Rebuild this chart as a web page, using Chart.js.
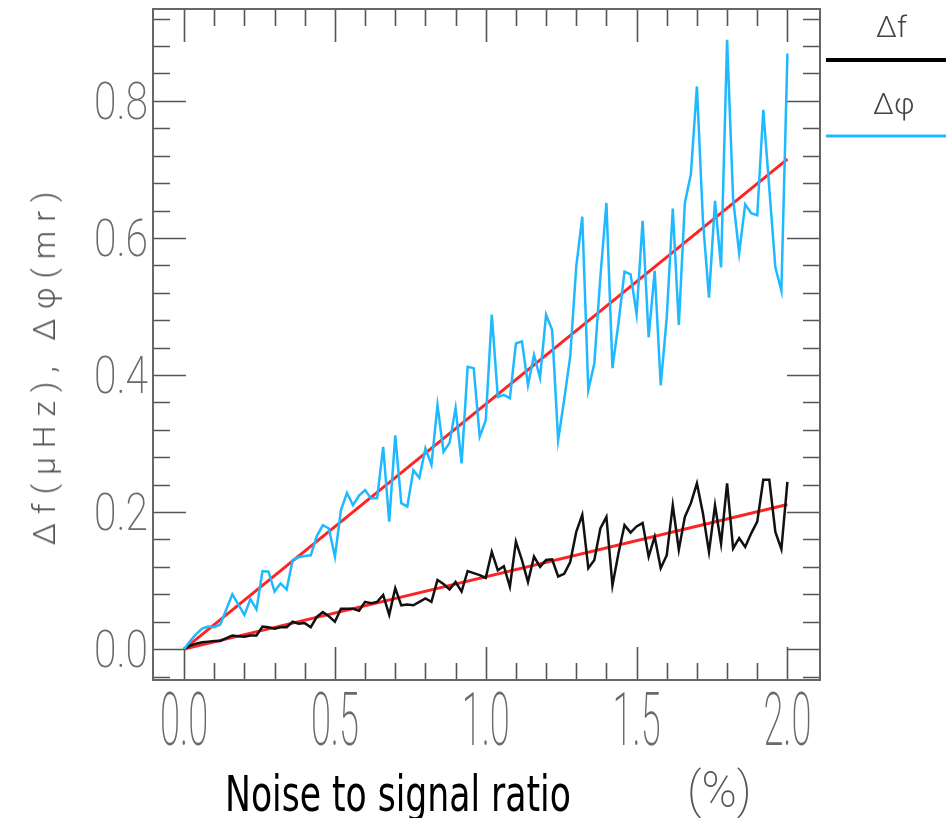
<!DOCTYPE html>
<html>
<head>
<meta charset="utf-8">
<script src="https://cdn.jsdelivr.net/npm/chart.js@4.4.1/dist/chart.umd.min.js"></script>
<style>
  html, body { margin: 0; padding: 0; background: #fff; }
  #wrap { position: relative; width: 946px; height: 818px; overflow: hidden; }
  #noiseChart { position: absolute; left: 0; top: 0; }
  .lbl { position: absolute; white-space: nowrap; line-height: 1; }
  #yTitle { left: 44px; top: 364px; transform: translate(-50%, -50%) rotate(-90deg);
            font: 300 32px Roboto, sans-serif; letter-spacing: 9px; color: #555; }
  #xTitle { left: 225px; top: 766px; font: 49px "Liberation Sans Narrow", "DejaVu Sans Condensed", sans-serif;
            color: #000; transform: scaleX(0.785); transform-origin: 0 0; }
  #xUnit { left: 687px; top: 761px; font: 200 50px Roboto, sans-serif; color: #555;
           transform: scaleX(0.95); transform-origin: 0 0; }
  .legTxt { font: 300 30px Roboto, sans-serif; color: #444; }
</style>
</head>
<body>
<div id="wrap">
  <canvas id="noiseChart" width="946" height="818"></canvas>
  <div class="lbl" id="yTitle">Δf(μHz),  Δφ(mr)</div>
  <div class="lbl" id="xTitle">Noise to signal ratio</div>
  <div class="lbl" id="xUnit">(%)</div>
  <div class="lbl legTxt" style="left:876px; top:9px;">Δf</div>
  <div class="lbl legTxt" style="left:873px; top:86px;">Δφ</div>
</div>
<script>
// noise to signal ratio (%)
const noiseRatio = [
  0.00, 0.02, 0.04, 0.06, 0.08, 0.10, 0.12, 0.14, 0.16, 0.18,
  0.20, 0.22, 0.24, 0.26, 0.28, 0.30, 0.32, 0.34, 0.36, 0.38,
  0.40, 0.42, 0.44, 0.46, 0.48, 0.50, 0.52, 0.54, 0.56, 0.58,
  0.60, 0.62, 0.64, 0.66, 0.68, 0.70, 0.72, 0.74, 0.76, 0.78,
  0.80, 0.82, 0.84, 0.86, 0.88, 0.90, 0.92, 0.94, 0.96, 0.98,
  1.00, 1.02, 1.04, 1.06, 1.08, 1.10, 1.12, 1.14, 1.16, 1.18,
  1.20, 1.22, 1.24, 1.26, 1.28, 1.30, 1.32, 1.34, 1.36, 1.38,
  1.40, 1.42, 1.44, 1.46, 1.48, 1.50, 1.52, 1.54, 1.56, 1.58,
  1.60, 1.62, 1.64, 1.66, 1.68, 1.70, 1.72, 1.74, 1.76, 1.78,
  1.80, 1.82, 1.84, 1.86, 1.88, 1.90, 1.92, 1.94, 1.96, 1.98,
  2.00
];

// Δf (µHz)
const deltaF = [
  0.000, 0.005, 0.008, 0.010, 0.011, 0.012, 0.012, 0.016, 0.020, 0.019,
  0.018, 0.020, 0.020, 0.033, 0.032, 0.030, 0.032, 0.032, 0.040, 0.037,
  0.038, 0.032, 0.047, 0.054, 0.048, 0.040, 0.059, 0.059, 0.059, 0.056,
  0.069, 0.067, 0.069, 0.079, 0.050, 0.089, 0.064, 0.065, 0.064, 0.069,
  0.074, 0.069, 0.101, 0.095, 0.087, 0.098, 0.084, 0.114, 0.111, 0.108,
  0.104, 0.142, 0.115, 0.121, 0.091, 0.157, 0.130, 0.098, 0.135, 0.120,
  0.130, 0.131, 0.106, 0.110, 0.127, 0.171, 0.196, 0.118, 0.130, 0.176,
  0.193, 0.093, 0.140, 0.181, 0.170, 0.179, 0.184, 0.135, 0.164, 0.118,
  0.137, 0.210, 0.145, 0.193, 0.213, 0.242, 0.198, 0.142, 0.210, 0.154,
  0.242, 0.147, 0.162, 0.149, 0.169, 0.186, 0.247, 0.247, 0.171, 0.146,
  0.244
];

// Δφ (mr)
const deltaPhi = [
  0.000, 0.012, 0.022, 0.030, 0.033, 0.032, 0.036, 0.058, 0.080, 0.065,
  0.050, 0.073, 0.058, 0.114, 0.113, 0.084, 0.096, 0.087, 0.130, 0.134,
  0.136, 0.137, 0.165, 0.181, 0.176, 0.135, 0.203, 0.228, 0.210, 0.224,
  0.232, 0.220, 0.220, 0.295, 0.186, 0.312, 0.213, 0.208, 0.261, 0.250,
  0.293, 0.269, 0.356, 0.288, 0.301, 0.352, 0.271, 0.412, 0.410, 0.310,
  0.334, 0.488, 0.368, 0.371, 0.366, 0.446, 0.449, 0.385, 0.429, 0.396,
  0.488, 0.466, 0.305, 0.364, 0.427, 0.558, 0.631, 0.378, 0.417, 0.543,
  0.651, 0.410, 0.476, 0.551, 0.547, 0.489, 0.625, 0.455, 0.552, 0.385,
  0.484, 0.643, 0.473, 0.651, 0.693, 0.821, 0.625, 0.513, 0.654, 0.557,
  0.889, 0.657, 0.578, 0.649, 0.636, 0.633, 0.787, 0.672, 0.557, 0.523,
  0.869
];

// linear fits (red)
const fitRange = [0.0, 2.0];
const fitDeltaF = [0.0, 0.211];
const fitDeltaPhi = [0.0, 0.715];

// axis ticks
const xTickValues = [0.0, 0.5, 1.0, 1.5, 2.0];
const yTickValues = [0.0, 0.2, 0.4, 0.6, 0.8];
const xMinorTicks = [0.0, 0.1, 0.2, 0.3, 0.4, 0.5, 0.6, 0.7, 0.8, 0.9, 1.0,
                     1.1, 1.2, 1.3, 1.4, 1.5, 1.6, 1.7, 1.8, 1.9, 2.0];
const yMinorTicks = [-0.04, 0.0, 0.04, 0.08, 0.12, 0.16, 0.2, 0.24, 0.28, 0.32, 0.36,
                     0.4, 0.44, 0.48, 0.52, 0.56, 0.6, 0.64, 0.68, 0.72, 0.76, 0.8, 0.84, 0.88, 0.92];

const toPoints = (xs, ys) => xs.map((x, i) => ({ x: x, y: ys[i] }));
const isMajor = (v, list) => list.some(m => Math.abs(m - v) < 1e-6);

// frame with inward ticks on all four sides, plus tick labels
const frameTicks = {
  id: 'frameTicks',
  beforeDatasetsDraw(chart) {
    const { ctx, chartArea: a, scales: { x, y } } = chart;
    ctx.save();
    ctx.strokeStyle = '#555';
    ctx.lineWidth = 1.6;
    ctx.beginPath();
    xMinorTicks.forEach(v => {
      const px = Math.round(x.getPixelForValue(v)) + 0.5;
      const len = isMajor(v, xTickValues) ? 33 : 17;
      ctx.moveTo(px, a.top); ctx.lineTo(px, a.top + len);
      ctx.moveTo(px, a.bottom); ctx.lineTo(px, a.bottom - len);
    });
    yMinorTicks.forEach(v => {
      const py = Math.round(y.getPixelForValue(v)) + 0.5;
      const len = isMajor(v, yTickValues) ? 33 : 17;
      ctx.moveTo(a.left, py); ctx.lineTo(a.left + len, py);
      ctx.moveTo(a.right, py); ctx.lineTo(a.right - len, py);
    });
    ctx.stroke();
    ctx.lineWidth = 2;
    ctx.strokeStyle = '#666';
    ctx.strokeRect(a.left, a.top, a.width, a.height);

    // tick labels
    ctx.fillStyle = '#6a6a6a';
    ctx.textAlign = 'center';
    ctx.textBaseline = 'alphabetic';
    ctx.font = '200 74px Roboto, sans-serif';
    x.ticks.forEach(t => {
      ctx.save();
      ctx.translate(x.getPixelForValue(t.value), 745);
      ctx.scale(0.49, 1);
      ctx.fillText(t.value.toFixed(1), 0, 0);
      ctx.restore();
    });
    ctx.textAlign = 'right';
    ctx.font = '200 51px Roboto, sans-serif';
    y.ticks.forEach(t => {
      ctx.save();
      ctx.translate(148, y.getPixelForValue(t.value) + 18);
      ctx.scale(0.8, 1);
      ctx.fillText(t.value.toFixed(1), 0, 0);
      ctx.restore();
    });

    // legend lines
    ctx.lineWidth = 4;
    ctx.strokeStyle = '#000';
    ctx.beginPath(); ctx.moveTo(826, 60); ctx.lineTo(946, 60); ctx.stroke();
    ctx.lineWidth = 3;
    ctx.strokeStyle = '#1fb9ff';
    ctx.beginPath(); ctx.moveTo(826, 136); ctx.lineTo(946, 136); ctx.stroke();
    ctx.restore();
  }
};

new Chart(document.getElementById('noiseChart'), {
  type: 'line',
  data: {
    datasets: [
      { label: 'Δφ', data: toPoints(noiseRatio, deltaPhi), borderColor: '#1fb9ff', borderWidth: 2.5 },
      { label: 'Δf', data: toPoints(noiseRatio, deltaF), borderColor: '#111', borderWidth: 2.5 },
      { label: 'fit Δφ', data: toPoints(fitRange, fitDeltaPhi), borderColor: '#ff2424', borderWidth: 3 },
      { label: 'fit Δf', data: toPoints(fitRange, fitDeltaF), borderColor: '#ff2424', borderWidth: 3 }
    ]
  },
  options: {
    responsive: false,
    animation: false,
    elements: { point: { radius: 0 }, line: { tension: 0, borderJoinStyle: 'miter' } },
    layout: { padding: { top: 9, right: 126, left: 0, bottom: 0 } },
    plugins: { legend: { display: false }, tooltip: { enabled: false } },
    scales: {
      x: {
        type: 'linear', min: -0.103, max: 2.108,
        grid: { display: false, drawTicks: false }, border: { display: false },
        ticks: { display: false },
        afterBuildTicks: s => { s.ticks = xTickValues.map(v => ({ value: v })); },
        afterFit: s => { s.height = 138; }
      },
      y: {
        type: 'linear', min: -0.045, max: 0.934,
        grid: { display: false, drawTicks: false }, border: { display: false },
        ticks: { display: false },
        afterBuildTicks: s => { s.ticks = yTickValues.map(v => ({ value: v })); },
        afterFit: s => { s.width = 153; }
      }
    }
  },
  plugins: [frameTicks]
});
</script>
</body>
</html>
